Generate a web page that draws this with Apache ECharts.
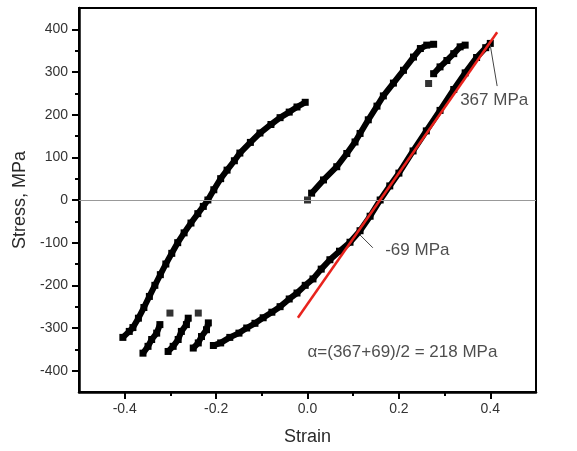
<!DOCTYPE html>
<html><head><meta charset="utf-8">
<script src="https://cdn.jsdelivr.net/npm/echarts@6/dist/echarts.min.js"></script>
<style>html,body{margin:0;padding:0;background:#fff}#c{width:577px;height:451px}</style>
</head><body><div id="c"></div>
<script>
// Tick values
const xMajorTicks = [-0.4, -0.2, 0, 0.2, 0.4];
const xMinorTicks = [-0.3, -0.1, 0.1, 0.3];
const yMajorTicks = [-400, -300, -200, -100, 0, 100, 200, 300, 400];
const yMinorTicks = [-350, -250, -150, -50, 50, 150, 250, 350];

// Left loading branch (strain, stress MPa)
const branchD = [[-0.404,-322],[-0.39,-308],[-0.382,-299],[-0.37,-277],[-0.358,-252],[-0.346,-226],[-0.334,-200],[-0.322,-175],[-0.31,-150],[-0.297,-125],[-0.284,-100],[-0.27,-77],[-0.255,-54],[-0.24,-32],[-0.228,-15],[-0.218,0],[-0.205,24],[-0.19,50],[-0.176,70],[-0.16,92],[-0.148,110],[-0.125,135],[-0.104,157],[-0.08,177],[-0.06,193],[-0.04,206],[-0.023,218],[-0.005,229]];
// Lower reloading branch
const branchC = [[-0.206,-341],[-0.19,-335],[-0.17,-322],[-0.15,-312],[-0.133,-300],[-0.115,-289],[-0.097,-276],[-0.078,-263],[-0.06,-250],[-0.04,-232],[-0.023,-218],[-0.005,-200],[0.012,-185],[0.03,-162],[0.049,-140],[0.07,-120],[0.093,-99],[0.115,-72],[0.137,-38],[0.159,0],[0.18,33],[0.2,63],[0.231,115],[0.26,162],[0.29,210],[0.32,259],[0.345,298],[0.37,334],[0.39,357],[0.4,367]];
// Middle loading branch
const branchA = [[0.009,16],[0.035,47],[0.064,78],[0.086,109],[0.104,136],[0.115,156],[0.133,188],[0.152,220],[0.166,244],[0.188,274],[0.21,304],[0.232,335],[0.247,355],[0.261,363],[0.276,365]];
// Short upper branch
const branchB = [[0.276,296],[0.29,312],[0.305,327],[0.32,343],[0.334,359],[0.345,363]];
// Short jagged segments near the bottom-left
const seg2 = [[-0.36,-359],[-0.349,-343],[-0.341,-327],[-0.33,-312],[-0.323,-292]];
const seg3 = [[-0.305,-355],[-0.294,-343],[-0.283,-327],[-0.276,-308],[-0.265,-292],[-0.261,-277]];
const seg4 = [[-0.25,-347],[-0.239,-335],[-0.232,-320],[-0.221,-304],[-0.217,-288]];
// Isolated points
const isolated = [[0,0],[0.265,273],[-0.301,-265],[-0.239,-265]];
// Red secant line
const redLine = [[-0.021,-276],[0.415,393]];
// Leader lines
const leader367 = [[0.4,362],[0.415,267]];
const leader69 = [[0.115,-82],[0.143,-112]];
// Annotation text anchors
const notes = [
  {pos:[0.334,234], text:'367 MPa'},
  {pos:[0.17,-117], text:'-69 MPa'},
  {pos:[0.0,-356], text:'\u03b1=(367+69)/2 = 218 MPa'}
];

const blackLine = (d) => ({type:'line', data:d, symbol:'rect', symbolSize:7, showSymbol:true,
  itemStyle:{color:'#000'}, lineStyle:{color:'#000', width:6}, silent:true, animation:false, z:3});

const chart = echarts.init(document.getElementById('c'));
chart.setOption({
  animation:false,
  grid:{left:79, right:41, top:8, bottom:59, show:true, borderColor:'#000', borderWidth:2},
  xAxis:[{
    type:'value', min:-0.5, max:0.5,
    name:'Strain', nameLocation:'middle', nameGap:36,
    nameTextStyle:{fontFamily:'Liberation Sans', fontSize:18, color:'#2a2a2a'},
    axisLine:{show:true, onZero:false, lineStyle:{color:'#000', width:2.5}},
    axisTick:{show:true, inside:false, length:7, customValues:xMajorTicks, lineStyle:{color:'#000', width:2}},
    axisLabel:{customValues:xMajorTicks, margin:10, fontFamily:'Liberation Sans', fontSize:14, color:'#333',
      formatter:v=>v.toFixed(1)},
    splitLine:{show:false}
  },{
    type:'value', min:-0.5, max:0.5, position:'bottom',
    axisLine:{show:false, onZero:false},
    axisTick:{show:true, length:4, customValues:xMinorTicks, lineStyle:{color:'#000', width:2}},
    axisLabel:{show:false}, splitLine:{show:false}
  }],
  yAxis:[{
    type:'value', min:-450, max:450,
    name:'Stress, MPa', nameLocation:'middle', nameGap:50,
    nameTextStyle:{fontFamily:'Liberation Sans', fontSize:18, color:'#2a2a2a'},
    axisLine:{show:true, onZero:false, lineStyle:{color:'#000', width:2.5}},
    axisTick:{show:true, length:7, customValues:yMajorTicks, lineStyle:{color:'#000', width:2}},
    axisLabel:{customValues:yMajorTicks, margin:11, fontFamily:'Liberation Sans', fontSize:14, color:'#333'},
    splitLine:{show:false}
  },{
    type:'value', min:-450, max:450, position:'left',
    axisLine:{show:false, onZero:false},
    axisTick:{show:true, length:4, customValues:yMinorTicks, lineStyle:{color:'#000', width:2}},
    axisLabel:{show:false}, splitLine:{show:false}
  }],
  series:[
    {type:'line', data:[], markLine:{silent:true, symbol:'none', label:{show:false},
      lineStyle:{color:'#999', width:1, type:'solid'}, data:[{yAxis:0}]}, z:1},
    blackLine(branchD), blackLine(branchC), blackLine(branchA), blackLine(branchB),
    blackLine(seg2), blackLine(seg3), blackLine(seg4),
    {type:'scatter', data:isolated, symbol:'rect', symbolSize:7, itemStyle:{color:'#000'}, z:3},
    {type:'line', data:redLine, symbol:'none', lineStyle:{color:'#e8231d', width:2.5}, z:5},
    {type:'line', data:leader367, symbol:'none', lineStyle:{color:'#444', width:1}, z:4},
    {type:'line', data:leader69, symbol:'none', lineStyle:{color:'#444', width:1}, z:4},
    {type:'scatter', symbolSize:0, z:6,
      data:notes.map(n=>({value:n.pos, label:{show:true, formatter:n.text}})),
      label:{show:true, position:'right', distance:0, fontFamily:'Liberation Sans', fontSize:17, color:'#222'}}
  ]
});
</script></body></html>
